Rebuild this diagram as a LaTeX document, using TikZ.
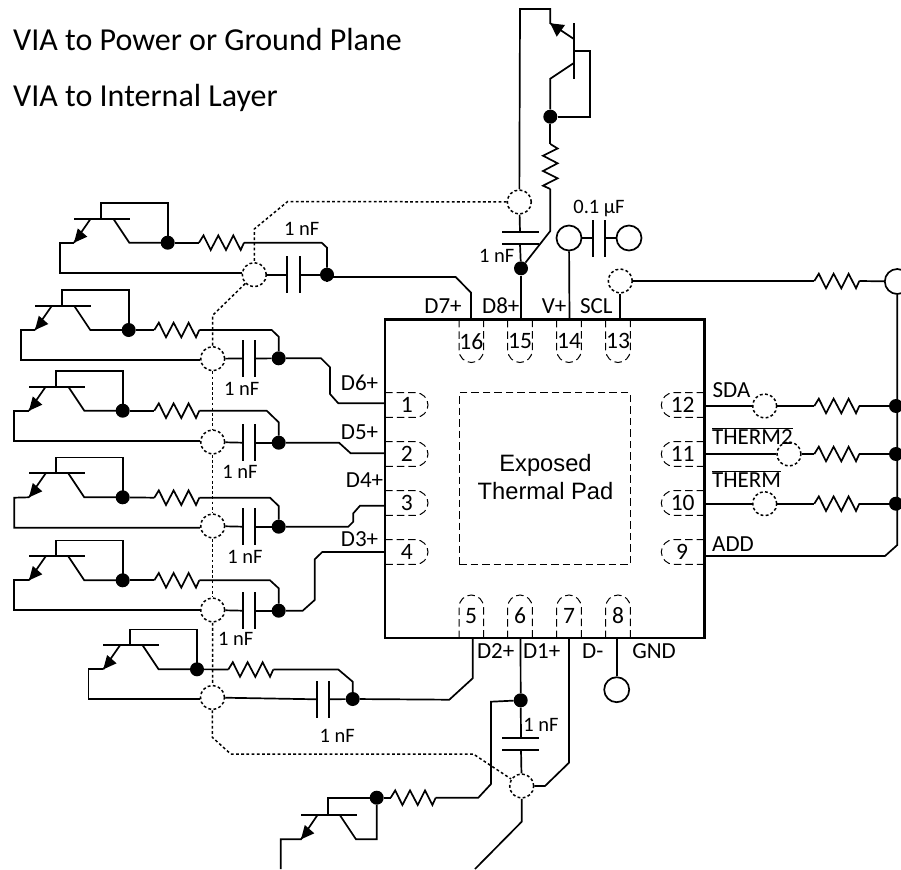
\documentclass[tikz,border=0pt]{standalone}
\usepackage{fontspec}
\setmainfont{Carlito}
\newfontfamily\arialfont{Liberation Sans}
\tikzset{
  wire/.style={line width=1.7pt,line join=miter},
  via/.style={circle,draw,dash pattern=on 2.8pt off 2.4pt,line width=1.5pt,minimum size=24pt,inner sep=0pt},
  term/.style={circle,draw,line width=1.7pt,minimum size=25pt,inner sep=0pt},
  jdot/.style={circle,fill=black,minimum size=14pt,inner sep=0pt},
  dotwire/.style={line width=1.5pt,dash pattern=on 2.8pt off 2.4pt},
  padline/.style={line width=1pt,dash pattern=on 7.5pt off 4pt},
  lab/.style={inner sep=0pt,font=\fontsize{23}{26}\selectfont},
  nf/.style={inner sep=0pt,font=\fontsize{20.5}{24}\selectfont},
  pinno/.style={inner sep=0pt,font=\fontsize{23.5}{26}\selectfont},
  plate/.style={line width=1.7pt},
  qbjt/.pic={
    \draw[wire] (0,0) -- (55.7,0);
    \draw[wire] (27,0) -- (27,-15.7) -- (93.7,-15.7) -- (93.7,24);
    \draw[wire] (39.3,0) -- (55.3,24) -- (93.7,24);
    \draw[wire] (16.7,0) -- (0,24);
    \fill (0,24) -- (3.8,9.7) -- (13.3,18) -- cycle;
    \node[jdot] (-dot) at (93.7,24) {};
    \coordinate (-em) at (0,24);
  },
  zig/.pic={
    \draw[wire] (0,0) -- (4.5,-7.3) -- (11.7,7.3) -- (19.3,-7.3) -- (27,7.3) -- (34.3,-7.3) -- (41.7,7.3) -- (45,0);
    \coordinate (-a) at (0,0);
    \coordinate (-b) at (45,0);
  },
  padshape/.pic={
    \draw[padline] (0,-12.3) -- (30.7,-12.3) arc[start angle=90,end angle=-90,radius=12.3pt] -- (0,12.3);
  },
}
\begin{document}
\begin{tikzpicture}[x=1pt,y=-1pt]
\clip (0,0) rectangle (901,869);
% texts at top
\node[inner sep=0pt,anchor=base west,font=\fontsize{32}{36}\selectfont] (t1) at (13,50.5) {VIA to Power or Ground Plane};
\node[inner sep=0pt,anchor=base west,font=\fontsize{32}{36}\selectfont] (t2) at (13,107) {VIA to Internal Layer};
% pads
\foreach \x in {471.3,520,569,618}{
  \pic[rotate=-90] at (\x,319.5) {padshape};
  \pic[rotate=90] at (\x,638) {padshape};
}
\foreach \y in {405,454,503,552}{
  \pic at (385,\y) {padshape};
  \pic[rotate=180] at (704.3,\y) {padshape};
}
\node[draw,line width=2.4pt,minimum width=319.3pt,minimum height=318.4pt,inner sep=0pt] (chip) at (544.7,478.5) {};
\node[draw,padline,minimum width=171.3pt,minimum height=171.6pt,inner sep=0pt] (pad) at (544.7,478.5) {};
\node[inner sep=0pt,align=center,font=\arialfont\fontsize{23.7}{28}\selectfont] (padtxt) at (545.5,477.5) {Exposed\\Thermal Pad};
% pin numbers
\node[pinno] (n1) at (406.7,405) {1};
\node[pinno] (n2) at (406.7,454) {2};
\node[pinno] (n3) at (406.7,502.7) {3};
\node[pinno] (n4) at (406.7,551.7) {4};
\node[pinno] (n5) at (471,616) {5};
\node[pinno] (n6) at (520,616) {6};
\node[pinno] (n7) at (569,616) {7};
\node[pinno] (n8) at (618,616) {8};
\node[pinno] (n9) at (682,552) {9};
\node[pinno] (n10) at (682.7,503) {10};
\node[pinno] (n11) at (682.7,454) {11};
\node[pinno] (n12) at (682.7,405) {12};
\node[pinno] (n13) at (618,341.3) {13};
\node[pinno] (n14) at (569,341.3) {14};
\node[pinno] (n15) at (520,341.3) {15};
\node[pinno] (n16) at (471.3,341.3) {16};
% pin labels
\node[lab] (D7) at (443,305.7) {D7+};
\node[lab] (D8) at (500.8,305.7) {D8+};
\node[lab] (Vp) at (554,305.7) {V+};
\node[lab] (SCL) at (596.3,305.7) {SCL};
\node[lab] (D6) at (359.5,383.3) {D6+};
\node[lab] (D5) at (359.5,432) {D5+};
\node[lab] (D4) at (364.5,480) {D4+};
\node[lab] (D3) at (359.5,539.3) {D3+};
\node[lab] (D2) at (495.7,651) {D2+};
\node[lab] (D1) at (541.7,651) {D1+};
\node[lab] (Dm) at (592.7,651) {D-};
\node[lab] (GNDl) at (654,651) {GND};
\node[lab] (SDA) at (731.5,390) {SDA};
\node[lab,anchor=base west] (TH2) at (712,444.3) {$\overline{\mbox{THERM2}}$};
\node[lab,anchor=base west] (TH) at (712,487.3) {$\overline{\mbox{THERM}}$};
\node[lab] (ADD) at (733,544) {ADD};
% caps labels
\node[nf] (c7) at (301.7,229) {1 nF};
\node[nf] (c6) at (241.7,389) {1 nF};
\node[nf] (c5) at (240,471.7) {1 nF};
\node[nf] (c4) at (245,556.7) {1 nF};
\node[nf] (c3) at (235.7,639) {1 nF};
\node[nf] (c2) at (337.3,735.7) {1 nF};
\node[nf] (c1) at (541,725.3) {1 nF};
\node[nf] (c8) at (496.7,256) {1 nF};
\node[nf] (c0) at (599,208) {0.1 µF};
% vias
\node[via] (v7) at (254.3,274.7) {};
\node[via] (v6) at (212.7,358.7) {};
\node[via] (v5) at (212.7,442) {};
\node[via] (v4) at (212.7,526) {};
\node[via] (v3) at (212.7,610) {};
\node[via] (v2) at (212.5,697.5) {};
\node[via] (v1) at (521.7,786) {};
\node[via] (v8) at (519.3,202) {};
\node[via] (vSCL) at (620.3,281) {};
\node[via] (vSDA) at (764.7,406) {};
\node[via] (vT2) at (789,454) {};
\node[via] (vT) at (764.7,503.7) {};
% terminals
\node[term] (pwrA) at (569,238) {};
\node[term] (pwrB) at (629,238) {};
\node[term] (pwrC) at (897.3,281.5) {};
\node[term] (gnd) at (616.7,689.7) {};
% chip pin coordinates
\coordinate (p16) at (471,319.5);
\coordinate (p15) at (521,319.5);
\coordinate (p14) at (569.5,319.5);
\coordinate (p13) at (620.3,319.5);
\coordinate (p5) at (472.7,638);
\coordinate (p6) at (520.5,638);
\coordinate (p7) at (569,638);
\coordinate (p8) at (616.7,638);
% transistors D3..D7
\pic (q7) at (74,218.7) {qbjt};
\pic (q6) at (35,306) {qbjt};
\pic (q5) at (29,386.7) {qbjt};
\pic (q4) at (29,473.3) {qbjt};
\pic (q3) at (29,556.3) {qbjt};
\pic (q2) at (103.3,645.3) {qbjt};
% cap junctions
\node[jdot] (d7) at (327,274.7) {};
\node[jdot] (d6) at (278.7,358.3) {};
\node[jdot] (d5) at (278.7,442.7) {};
\node[jdot] (d4) at (278.7,526.7) {};
\node[jdot] (d3) at (278.7,610.7) {};
\node[jdot] (d2) at (352.7,699) {};
\node[jdot] (d1) at (520.7,700.3) {};
\node[jdot] (d8) at (521,268.3) {};
\node[jdot] (dT8) at (550.3,116.7) {};
\node[jdot] (dT1) at (376.7,797.7) {};
\node[jdot] (dSDA) at (896,406) {};
\node[jdot] (dT2) at (896,454) {};
\node[jdot] (dT) at (896,503.7) {};
% resistors
\pic (r7) at (199,242.7) {zig};
\pic (r6) at (154.3,330) {zig};
\pic (r5) at (154.3,410.7) {zig};
\pic (r4) at (154.3,497.7) {zig};
\pic (r3) at (154.3,580.3) {zig};
\pic (r2) at (228.3,669.5) {zig};
\pic (r1) at (390.7,797.7) {zig};
\pic[rotate=-90] (r8) at (550.3,144) {zig};
\pic (rS) at (814.3,281) {zig};
\pic (rA) at (814.3,406) {zig};
\pic (rB) at (814.3,454) {zig};
\pic (rC) at (814.3,503.7) {zig};
% D7 channel
\draw[wire] (q7-dot) -- (r7-a);
\draw[wire] (r7-b) -- (321.7,242.7) -- (327,247.7) -- (d7);
\draw[wire] (q7-em) -- (59.7,242.7) -- (59.7,273) -- (v7.west |- 0,273);
\coordinate (c7a) at (287.3,274.7); \coordinate (c7b) at (300,274.7);
\draw[wire] (v7) -- (c7a); \draw[wire] (c7b) -- (d7);
\draw[plate] (287.3,256) -- (287.3,292.7); \draw[plate] (300,256) -- (300,292.7);
\draw[wire] (d7) -- (327,277) -- (455.7,277) -- (471,292.7) -- (p16);
% D6 channel
\draw[wire] (q6-dot) -- (r6-a);
\draw[wire] (r6-b) -- (271.7,330) -- (278.7,336.7) -- (d6);
\draw[wire] (q6-em) -- (20.7,330) -- (20.7,359.7) -- (v6.west |- 0,359.7);
\coordinate (c6a) at (242.7,358.5); \coordinate (c6b) at (255,358.5);
\draw[wire] (v6) -- (c6a); \draw[wire] (c6b) -- (d6);
\draw[plate] (242.7,340) -- (242.7,376.7); \draw[plate] (255,340) -- (255,376.7);
\draw[wire] (d6) -- (321,358.3) -- (330,367.3) -- (330,394) -- (338.3,403.3) -- (chip.west |- 0,403.3);
% D5 channel
\draw[wire] (q5-dot) -- (r5-a);
\draw[wire] (r5-b) -- (266.7,410.7) -- (278.7,422.3) -- (d5);
\draw[wire] (q5-em) -- (14.3,410.7) -- (14.3,440.7) -- (v5.west |- 0,440.7);
\coordinate (c5a) at (242.7,442.7); \coordinate (c5b) at (255,442.7);
\draw[wire] (v5) -- (c5a); \draw[wire] (c5b) -- (d5);
\draw[plate] (242.7,424) -- (242.7,461); \draw[plate] (255,424) -- (255,461);
\draw[wire] (d5) -- (339,442.7) -- (350.7,453.3) -- (chip.west |- 0,453.3);
% D4 channel
\draw[wire] (q4-dot) -- (r4-a);
\draw[wire] (r4-b) -- (270,497.7) -- (278.7,506) -- (d4);
\draw[wire] (q4-em) -- (14.3,497.7) -- (14.3,527.7) -- (v4.west |- 0,527.7);
\coordinate (c4a) at (242.7,526.7); \coordinate (c4b) at (255,526.7);
\draw[wire] (v4) -- (c4a); \draw[wire] (c4b) -- (d4);
\draw[plate] (242.7,508) -- (242.7,545); \draw[plate] (255,508) -- (255,545);
\draw[wire] (d4) -- (348.3,526.7) -- (353.3,521.7) -- (353.3,513.3) -- (360,505.7) -- (chip.west |- 0,505.7);
% D3 channel
\draw[wire] (q3-dot) -- (r3-a);
\draw[wire] (r3-b) -- (270,580.3) -- (278.7,588.3) -- (d3);
\draw[wire] (q3-em) -- (14.3,580.3) -- (14.3,610.3) -- (v3.west |- 0,610.3);
\coordinate (c3a) at (242.7,610.7); \coordinate (c3b) at (255,610.7);
\draw[wire] (v3) -- (c3a); \draw[wire] (c3b) -- (d3);
\draw[plate] (242.7,592) -- (242.7,629); \draw[plate] (255,592) -- (255,629);
\draw[wire] (d3) -- (302.7,610.7) -- (314.7,600) -- (314.7,559.3) -- (322.3,552) -- (chip.west |- 0,552);
% D2 channel
\draw[wire] (q2-dot) -- (r2-a);
\draw[wire] (r2-b) -- (338.3,669.5) -- (352.7,681.7) -- (d2);
\draw[wire] (q2-em) -- (88.5,669.3) -- (88.5,699.3) -- (v2.west |- 0,699.3);
\coordinate (c2a) at (316.7,699.3); \coordinate (c2b) at (329,699.3);
\draw[wire] (v2) -- (c2a); \draw[wire] (c2b) -- (d2);
\draw[plate] (316.7,681) -- (316.7,718.3); \draw[plate] (329,681) -- (329,718.3);
\draw[wire] (d2) -- (449.3,699.7) -- (472.7,678.3) -- (p5);
% D1 channel
\draw[wire] (p6) -- (d1);
\coordinate (c1a) at (521,737.7); \coordinate (c1b) at (521,749.7);
\draw[wire] (d1) -- (c1a); \draw[wire] (c1b) -- (v1);
\draw[plate] (502.3,737.7) -- (539.3,737.7); \draw[plate] (502.3,749.7) -- (539.3,749.7);
\draw[wire] (d1) -- (491,701.7) -- (491,784) -- (478.3,797.7) -- (r1-b);
\draw[wire] (r1-a) -- (dT1);
\draw[wire] (p7) -- (569,762.7) -- (545,786) -- (v1);
\draw[wire] (v1) -- (521.7,821.7) -- (475,869);
% bottom transistor
\draw[wire] (301,815.3) -- (356.7,815.3);
\draw[wire] (328.3,815.3) -- (328.3,797.7) -- (dT1);
\draw[wire] (dT1) -- (376.7,839.3) -- (356,839.3) -- (340,815.3);
\draw[wire] (317.3,815.3) -- (301,839.3) -- (280.7,839.3) -- (280.7,869);
\fill (301,839.3) -- (304.8,825) -- (314.3,833.3) -- cycle;
% D8 channel, top transistor
\draw[wire] (p15) -- (d8);
\coordinate (c8a) at (520,232.3); \coordinate (c8b) at (520,244.3);
\draw[wire] (d8) -- (c8b); \draw[wire] (c8a) -- (v8);
\draw[plate] (502.3,232.3) -- (539,232.3); \draw[plate] (502.3,244.3) -- (539,244.3);
\draw[wire] (v8) -- (520,9) -- (550.3,9) -- (550.3,23.3) -- (574.3,39.3);
\fill (550.3,23.3) -- (565,25) -- (556.7,36.7) -- cycle;
\draw[wire] (574.3,23.3) -- (574.3,79);
\draw[wire] (574.3,50.7) -- (590.3,50.7) -- (590.3,116.7) -- (dT8);
\draw[wire] (574.3,62.7) -- (550.3,78.7) -- (dT8);
\draw[wire] (dT8) -- (r8-a);
\draw[wire] (r8-b) -- (550.3,231) -- (d8);
% supply
\draw[wire] (p14) -- (pwrA);
\coordinate (c0a) at (593,238); \coordinate (c0b) at (605,238);
\draw[wire] (pwrA) -- (c0a); \draw[wire] (c0b) -- (pwrB);
\draw[plate] (593,220) -- (593,257); \draw[plate] (605,220) -- (605,257);
% SCL and right side
\draw[wire] (p13) -- (vSCL);
\draw[wire] (vSCL) -- (rS-a);
\draw[wire] (rS-b) -- (pwrC);
\draw[wire] (pwrC) -- (897.3,545) -- (885,556) -- (chip.east |- 0,556);
\draw[wire] (chip.east |- vSDA) -- (vSDA);
\draw[wire] (vSDA) -- (rA-a);
\draw[wire] (rA-b) -- (dSDA);
\draw[wire] (chip.east |- vT2) -- (vT2);
\draw[wire] (vT2) -- (rB-a);
\draw[wire] (rB-b) -- (dT2);
\draw[wire] (chip.east |- vT) -- (vT);
\draw[wire] (vT) -- (rC-a);
\draw[wire] (rC-b) -- (dT);
\draw[wire] (p8) -- (gnd);
% dotted routing
\draw[dotwire] (v8) -- (287.7,201.5) -- (254.3,229) -- (v7);
\draw[dotwire] (v7) -- (212.7,315.3) -- (v6);
\draw[dotwire] (v6) -- (v5);
\draw[dotwire] (v5) -- (v4);
\draw[dotwire] (v4) -- (v3);
\draw[dotwire] (v3) -- (v2);
\draw[dotwire] (v2) -- (212.3,737.3) -- (230.7,754) -- (473.3,754) -- (v1);
\end{tikzpicture}
\end{document}
